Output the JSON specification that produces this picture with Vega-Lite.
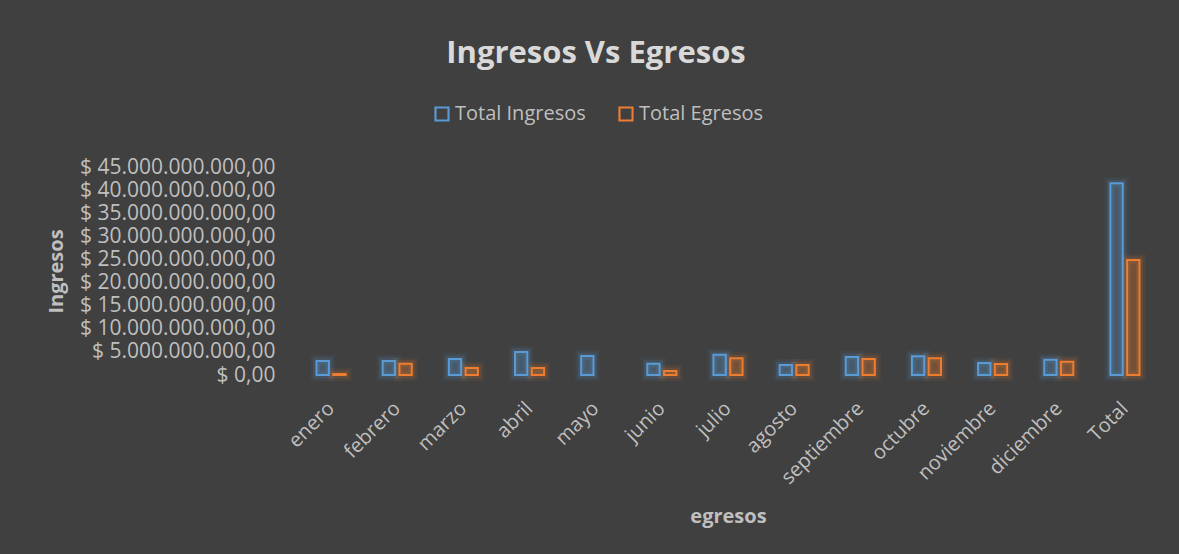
{
  "$schema": "https://vega.github.io/schema/vega-lite/v6.json",
  "width": 860,
  "height": 208,
  "autosize": {"type": "none"},
  "padding": {"left": 298, "top": 167, "right": 21, "bottom": 179},
  "background": "#404040",
  "config": {
    "locale": {"number": {"decimal": ",", "thousands": ".", "grouping": [3], "currency": ["$ ", ""]}},
    "view": {"stroke": null},
    "font": "Open Sans"
  },
  "title": {
    "text": "Ingresos Vs Egresos",
    "fontSize": 31,
    "fontWeight": "bold",
    "color": "#d9d9d9",
    "anchor": "middle",
    "frame": "group",
    "dx": -132,
    "dy": 50,
    "baseline": "alphabetic",
    "offset": 60
  },
  "data": {
    "values": [
      {"mes": "enero", "serie": "Total Ingresos", "valor": 3030000000},
      {"mes": "enero", "serie": "Total Egresos", "valor": 200000000},
      {"mes": "febrero", "serie": "Total Ingresos", "valor": 3030000000},
      {"mes": "febrero", "serie": "Total Egresos", "valor": 2450000000},
      {"mes": "marzo", "serie": "Total Ingresos", "valor": 3470000000},
      {"mes": "marzo", "serie": "Total Egresos", "valor": 1520000000},
      {"mes": "abril", "serie": "Total Ingresos", "valor": 4980000000},
      {"mes": "abril", "serie": "Total Egresos", "valor": 1520000000},
      {"mes": "mayo", "serie": "Total Ingresos", "valor": 4120000000},
      {"mes": "junio", "serie": "Total Ingresos", "valor": 2450000000},
      {"mes": "junio", "serie": "Total Egresos", "valor": 870000000},
      {"mes": "julio", "serie": "Total Ingresos", "valor": 4400000000},
      {"mes": "julio", "serie": "Total Egresos", "valor": 3620000000},
      {"mes": "agosto", "serie": "Total Ingresos", "valor": 2170000000},
      {"mes": "agosto", "serie": "Total Egresos", "valor": 2170000000},
      {"mes": "septiembre", "serie": "Total Ingresos", "valor": 3900000000},
      {"mes": "septiembre", "serie": "Total Egresos", "valor": 3470000000},
      {"mes": "octubre", "serie": "Total Ingresos", "valor": 4050000000},
      {"mes": "octubre", "serie": "Total Egresos", "valor": 3620000000},
      {"mes": "noviembre", "serie": "Total Ingresos", "valor": 2600000000},
      {"mes": "noviembre", "serie": "Total Egresos", "valor": 2380000000},
      {"mes": "diciembre", "serie": "Total Ingresos", "valor": 3310000000},
      {"mes": "diciembre", "serie": "Total Egresos", "valor": 2880000000},
      {"mes": "Total", "serie": "Total Ingresos", "valor": 41510000000},
      {"mes": "Total", "serie": "Total Egresos", "valor": 24900000000}
    ]
  },
  "encoding": {
    "x": {
      "field": "mes",
      "type": "nominal",
      "sort": ["enero", "febrero", "marzo", "abril", "mayo", "junio", "julio", "agosto", "septiembre", "octubre", "noviembre", "diciembre", "Total"],
      "scale": {"paddingInner": 0.56, "paddingOuter": 0.28},
      "axis": {
        "title": "egresos",
        "titleFontSize": 20,
        "titleFontWeight": "bold",
        "titleColor": "#bfbfbf",
        "titleX": 430,
        "titleY": 147,
        "titleBaseline": "alphabetic",
        "labelAngle": -45,
        "labelFontSize": 20,
        "labelColor": "#bfbfbf",
        "labelPadding": 23,
        "labelOffset": -7,
        "ticks": false,
        "tickSize": 0,
        "domain": false,
        "grid": false,
        "labelOverlap": false,
        "labelLimit": 0
      }
    },
    "xOffset": {
      "field": "serie",
      "type": "nominal",
      "sort": ["Total Ingresos", "Total Egresos"],
      "scale": {"paddingInner": 0.26, "paddingOuter": 0}
    },
    "y": {
      "field": "valor",
      "type": "quantitative",
      "scale": {"domain": [0, 45000000000], "nice": false},
      "axis": {
        "title": "Ingresos",
        "titleFontSize": 20,
        "titleFontWeight": "bold",
        "titleColor": "#bfbfbf",
        "titleX": -236,
        "titleY": 104,
        "titleBaseline": "alphabetic",
        "values": [0, 5000000000, 10000000000, 15000000000, 20000000000, 25000000000, 30000000000, 35000000000, 40000000000, 45000000000],
        "format": "$,.2f",
        "labelFontSize": 21,
        "labelColor": "#bfbfbf",
        "labelPadding": 23,
        "labelLimit": 0,
        "labelOverlap": false,
        "ticks": false,
        "tickSize": 0,
        "domain": false,
        "grid": false
      }
    },
    "stroke": {
      "field": "serie",
      "type": "nominal",
      "scale": {"domain": ["Total Ingresos", "Total Egresos"], "range": ["#5B9BD5", "#ED7D31"]},
      "legend": {
        "title": null,
        "orient": "none",
        "legendX": 134,
        "legendY": -63,
        "direction": "horizontal",
        "symbolType": "M-1,-1H1V1H-1Z M-0.72,-0.72V0.72H0.72V-0.72Z",
        "symbolSize": 230,
        "symbolStrokeWidth": 0,
        "labelFontSize": 20,
        "labelColor": "#bfbfbf",
        "labelOffset": 3,
        "columnPadding": 30
      }
    }
  },
  "layer": [
    {"mark": {"type": "bar", "fillOpacity": 0, "strokeWidth": 12, "strokeOpacity": 0.07}},
    {"mark": {"type": "bar", "fillOpacity": 0, "strokeWidth": 7, "strokeOpacity": 0.15}},
    {
      "mark": {"type": "bar", "fillOpacity": 0.25, "strokeWidth": 2, "strokeOpacity": 1},
      "encoding": {
        "fill": {
          "field": "serie",
          "type": "nominal",
          "scale": {"domain": ["Total Ingresos", "Total Egresos"], "range": ["#5B9BD5", "#ED7D31"]},
          "legend": null
        }
      }
    }
  ]
}
